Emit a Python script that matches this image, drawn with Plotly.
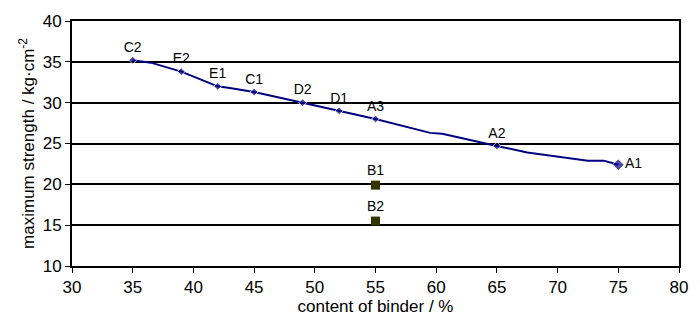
import plotly.graph_objects as go

# labelled samples on the trend
labels = ["C2", "E2", "E1", "C1", "D2", "D1", "A3", "A2", "A1"]
label_x = [35, 39, 42, 45, 49, 52, 55, 65, 75]
label_y = [35.2, 33.8, 32.0, 31.3, 30.0, 29.0, 28.0, 24.7, 22.4]

# trend line
line_x = [35, 36.5, 39, 42, 43, 45, 49, 52, 55, 59.5, 60.5, 65, 67.5, 72.5, 73.8, 75]
line_y = [35.2, 34.9, 33.8, 32.0, 31.8, 31.3, 30.0, 29.0, 28.0, 26.3, 26.2, 24.7, 23.9, 22.9, 22.9, 22.4]

# separate samples
b_labels = ["B1", "B2"]
b_x = [55, 55]
b_y = [19.9, 15.5]

x_ticks = [30, 35, 40, 45, 50, 55, 60, 65, 70, 75, 80]
y_ticks = [10, 15, 20, 25, 30, 35, 40]

navy = "#000080"
font_family = "Liberation Sans, Arial, sans-serif"

fig = go.Figure()
fig.add_trace(go.Scatter(x=line_x, y=line_y, mode="lines",
                         line=dict(color=navy, width=2), hoverinfo="skip", showlegend=False))
text_pos = ["top center"] * 8 + ["middle right"]
fig.add_trace(go.Scatter(x=label_x, y=label_y, mode="markers+text", text=labels,
                         textposition=text_pos,
                         textfont=dict(family=font_family, size=14, color="black"),
                         marker=dict(symbol="diamond", size=[6]*8 + [9], color=navy),
                         showlegend=False))
fig.add_trace(go.Scatter(x=b_x, y=b_y, mode="markers+text", text=b_labels,
                         textposition="top center",
                         textfont=dict(family=font_family, size=14, color="black"),
                         marker=dict(symbol="square", size=9, color="#333300"),
                         showlegend=False))

fig.update_layout(
    width=700, height=323,
    margin=dict(l=72, r=19, t=15, b=57),
    paper_bgcolor="white", plot_bgcolor="white",
    font=dict(family=font_family, size=17, color="black"),
    xaxis=dict(range=[30, 80], tickvals=x_ticks, ticks="outside", ticklen=5,
               tickcolor="black", tickfont=dict(size=17),
               showline=True, linecolor="black", linewidth=2,
               mirror=True, showgrid=False, zeroline=False,
               title=dict(text="content of binder / %", font=dict(size=17), standoff=2)),
    yaxis=dict(range=[10, 40], tickvals=y_ticks, ticks="outside", ticklen=5,
               tickcolor="black", tickfont=dict(size=17),
               showline=True, linecolor="black", linewidth=2,
               mirror=True, showgrid=True, gridcolor="black", gridwidth=1.5,
               zeroline=False,
               title=dict(text="maximum strength / kg·cm<sup>-2</sup>", font=dict(size=17), standoff=4)),
)

fig.write_html("out.html")
